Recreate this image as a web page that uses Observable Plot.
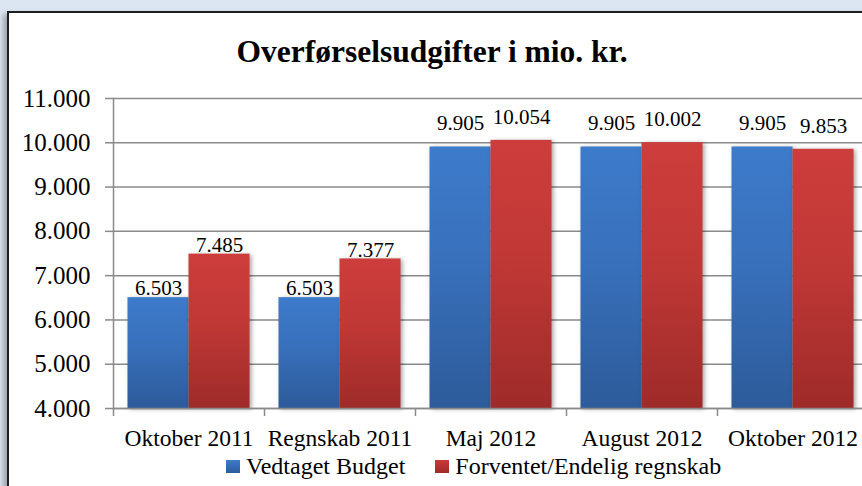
<!DOCTYPE html>
<html>
<head>
<meta charset="utf-8">
<script src="https://cdn.jsdelivr.net/npm/d3@7"></script>
<script src="https://cdn.jsdelivr.net/npm/@observablehq/plot@0.6"></script>
<style>
  html, body { margin: 0; padding: 0; }
  body { width: 862px; height: 486px; overflow: hidden; background: #dce6f2; position: relative; font-family: "Liberation Serif", "Times New Roman", serif; }
  #panel { position: absolute; left: 7px; top: 11px; width: 900px; height: 520px; background: #fff; border: 2px solid #1e1e1e; box-shadow: -4px 3px 5px rgba(0,0,0,0.28); }
  #title { position: absolute; left: 0; width: 864px; top: 36px; text-align: center; font-weight: bold; font-size: 31.5px; line-height: 31px; color: #000; }
  #chart { position: absolute; left: 0; top: 70px; width: 880px; }
  #chart svg { max-width: none !important; }
  #legend { position: absolute; left: 226px; top: 454px; font-size: 24px; line-height: 24px; white-space: nowrap; display: flex; align-items: center; }
  .item { display: flex; align-items: center; }
  .sw { width: 14px; height: 13px; margin-right: 6px; }
</style>
</head>
<body>
<div id="panel"></div>
<div id="title"></div>
<div id="chart"></div>
<div id="legend"></div>
<script>
const title = "Overførselsudgifter i mio. kr.";
const categories = ["Oktober 2011", "Regnskab 2011", "Maj 2012", "August 2012", "Oktober 2012"];
const seriesNames = ["Vedtaget Budget", "Forventet/Endelig regnskab"];
const budget = [6503, 6503, 9905, 9905, 9905];
const regnskab = [7485, 7377, 10054, 10002, 9853];
const yTicks = [4000, 5000, 6000, 7000, 8000, 9000, 10000, 11000];

document.getElementById("title").textContent = title;

const rows = categories.flatMap((c, i) => [
  {cat: c, series: seriesNames[0], value: budget[i]},
  {cat: c, series: seriesNames[1], value: regnskab[i]}
]);
const blue = rows.filter(d => d.series === seriesNames[0]);
const red = rows.filter(d => d.series === seriesNames[1]);
const is2011 = d => d.cat.endsWith("2011");

const W = 880, ML = 113, MR = 12;
const bw = (W - ML - MR) / categories.length;
const outer = 14.5, half = (bw - 2 * outer) / 2;
const fmt = v => d3.format(",")(v).replace(/,/g, ".");
const grid = "#8a8a8a";
const yMin = d3.min(yTicks), yMax = d3.max(yTicks);

const labelMarks = (data, sign) => [
  Plot.text(data.filter(is2011), {x: "cat", y: "value", text: d => fmt(d.value), dx: sign * (half / 2), dy: -9, fontSize: 21, fill: "#000", lineAnchor: "middle"}),
  Plot.text(data.filter(d => !is2011(d)), {x: "cat", y: "value", text: d => fmt(d.value), dx: sign * (half / 2), dy: -23.5, fontSize: 21, fill: "#000", lineAnchor: "middle"})
];

const chart = Plot.plot({
  width: W,
  height: 416,
  marginLeft: ML,
  marginRight: MR,
  marginTop: 28,
  marginBottom: 78,
  style: {background: "transparent", fontFamily: "Liberation Serif, Times New Roman, serif", color: "#000", overflow: "visible", maxWidth: "none"},
  x: {domain: categories, padding: 0, label: null},
  y: {domain: [yMin, yMax], label: null},
  marks: [
    Plot.gridY(yTicks, {stroke: grid, strokeOpacity: 1, strokeWidth: 1.5}),
    Plot.axisY(yTicks, {tickSize: 8, tickPadding: 15, tickFormat: fmt, fontSize: 25, stroke: grid, strokeWidth: 1.5, label: null}),
    Plot.frame({anchor: "left", stroke: grid, strokeWidth: 1.5}),
    Plot.barY(blue, {x: "cat", y1: () => yMin, y2: "value", fill: "url(#gBlue)", insetLeft: outer, insetRight: outer + half, className: "bars"}),
    Plot.barY(red, {x: "cat", y1: () => yMin, y2: "value", fill: "url(#gRed)", insetLeft: outer + half, insetRight: outer, className: "bars"}),
    Plot.ruleY([yMin], {stroke: grid, strokeWidth: 1.5}),
    Plot.ruleX(categories, {x: d => d, y1: () => yMin, y2: () => yMin, insetBottom: -8, dx: -bw / 2, stroke: grid, strokeWidth: 1.5}),
    Plot.axisX({tickSize: 0, tickPadding: 21, fontSize: 23.5, label: null}),
    ...labelMarks(blue, -1),
    ...labelMarks(red, 1)
  ]
});

const defs = d3.select(chart).insert("defs", ":first-child");
const grad = (id, top, mid, bottom) => {
  const g = defs.append("linearGradient").attr("id", id).attr("x1", 0).attr("y1", 0).attr("x2", 0).attr("y2", 1);
  g.append("stop").attr("offset", "0%").attr("stop-color", top);
  g.append("stop").attr("offset", "45%").attr("stop-color", mid);
  g.append("stop").attr("offset", "100%").attr("stop-color", bottom);
};
grad("gBlue", "#3d7bcb", "#3870bb", "#2d5b9a");
grad("gRed", "#cd3d3b", "#c03836", "#9e2b29");
d3.select(chart).selectAll(".bars").style("filter", "drop-shadow(2px 1px 2px rgba(0,0,0,0.35))");

document.getElementById("chart").appendChild(chart);

const legend = document.getElementById("legend");
seriesNames.forEach((name, i) => {
  const item = document.createElement("div");
  item.className = "item";
  if (i > 0) item.style.marginLeft = "30px";
  const sw = document.createElement("div");
  sw.className = "sw";
  sw.style.background = `linear-gradient(${i ? "#c83a38, #9e2b29" : "#3d7bcb, #2d5b9a"})`;
  const t = document.createElement("span");
  t.textContent = name;
  item.appendChild(sw);
  item.appendChild(t);
  legend.appendChild(item);
});
</script>
</body>
</html>
